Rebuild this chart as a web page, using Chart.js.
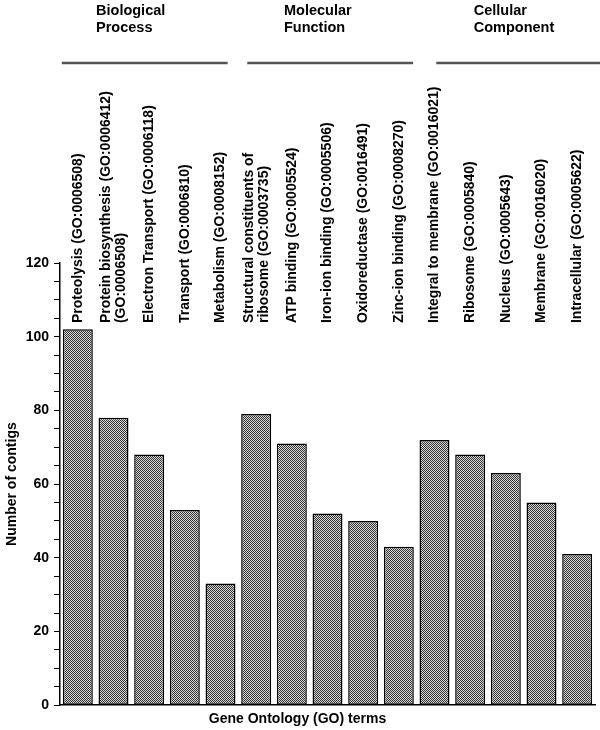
<!DOCTYPE html>
<html>
<head>
<meta charset="utf-8">
<script src="https://cdn.jsdelivr.net/npm/chart.js@4.4.1/dist/chart.umd.min.js"></script>
<style>
html,body{margin:0;padding:0;background:#fff;}
#wrap{width:600px;height:730px;}
</style>
</head>
<body>
<div id="wrap"><canvas id="c" width="600" height="730"></canvas></div>
<script>
// ---- data ----
const categories = [
  ['Proteolysis (GO:0006508)'],
  ['Protein biosynthesis (GO:0006412)', '(GO:0006508)'],
  ['Electron Transport (GO:0006118)'],
  ['Transport (GO:0006810)'],
  ['Metabolism (GO:0008152)'],
  ['Structural constituents of', 'ribosome (GO:0003735)'],
  ['ATP binding (GO:0005524)'],
  ['Iron-ion binding (GO:0005506)'],
  ['Oxidoreductase (GO:0016491)'],
  ['Zinc-ion binding (GO:0008270)'],
  ['Integral to membrane (GO:0016021)'],
  ['Ribosome (GO:0005840)'],
  ['Nucleus (GO:0005643)'],
  ['Membrane (GO:0016020)'],
  ['Intracellular (GO:0005622)']
];
const contigCounts = [102, 78, 68, 53, 33, 79, 71, 52, 50, 43, 72, 68, 63, 55, 41];
const groupNames = [['Biological', 'Process'], ['Molecular', 'Function'], ['Cellular', 'Component']];
const groupFirstBar = [0, 5, 10];
const groupLastBar = [4, 9, 14];
const yTickLabels = [0, 20, 40, 60, 80, 100, 120];

// ---- styling / layout (not data) ----
const FONT = '"Liberation Sans", Arial, Helvetica, sans-serif';
Chart.defaults.font.family = FONT;
Chart.defaults.color = '#000';

function makePattern() {
  const c = document.createElement('canvas');
  c.width = 2; c.height = 2;
  const g = c.getContext('2d');
  g.fillStyle = '#d8d8d8'; g.fillRect(0, 0, 2, 2);
  g.fillStyle = '#333333'; g.fillRect(0, 0, 1, 1); g.fillRect(1, 1, 1, 1);
  return g.createPattern(c, 'repeat');
}

// header offsets in category units relative to first/last bar of a group
const headerTextOffset = [0.51, 0.78, 1.1];
const headerLineStart = [-0.45, -0.25, 0.05];
const headerLineEnd = [0.2, 0.4, 0.65];

const annotations = {
  id: 'annotations',
  afterDatasetsDraw(chart) {
    const {ctx, scales: {x, y}} = chart;
    ctx.save();
    ctx.fillStyle = '#000';
    // rotated category labels
    ctx.font = 'bold 14px ' + FONT;
    ctx.textAlign = 'left';
    ctx.textBaseline = 'middle';
    const baseY = y.getPixelForValue(103.7);
    const lh = 15;
    categories.forEach((lines, i) => {
      const cx = x.getPixelForValue(i);
      const n = lines.length;
      lines.forEach((t, j) => {
        const px = cx + (j - (n - 1) / 2) * lh;
        ctx.save();
        ctx.translate(px, baseY);
        ctx.rotate(-Math.PI / 2);
        ctx.fillText(t, 0, 0);
        ctx.restore();
      });
    });
    // group headers
    ctx.font = 'bold 14.5px ' + FONT;
    ctx.textBaseline = 'alphabetic';
    groupNames.forEach((lines, g) => {
      const tx = x.getPixelForValue(groupFirstBar[g] + headerTextOffset[g]);
      lines.forEach((t, j) => ctx.fillText(t, tx, 15 + j * 17));
      const x1 = x.getPixelForValue(groupFirstBar[g] + headerLineStart[g]);
      const x2 = x.getPixelForValue(groupLastBar[g] + headerLineEnd[g]);
      ctx.strokeStyle = '#555';
      ctx.lineWidth = 2.5;
      ctx.beginPath();
      ctx.moveTo(x1, 63);
      ctx.lineTo(x2, 63);
      ctx.stroke();
    });
    ctx.restore();
  }
};

new Chart(document.getElementById('c'), {
  type: 'bar',
  data: {
    labels: categories.map(l => l.join(' ')),
    datasets: [{
      data: contigCounts,
      backgroundColor: makePattern(),
      borderColor: '#000',
      borderWidth: 1.5,
      borderSkipped: false,
      barPercentage: 0.84,
      categoryPercentage: 1
    }]
  },
  options: {
    responsive: false,
    animation: false,
    layout: {padding: {top: 263, right: 5, left: 0, bottom: 0}},
    plugins: {
      legend: {display: false},
      tooltip: {enabled: false},
      title: {
        display: true,
        position: 'bottom',
        text: 'Gene Ontology (GO) terms',
        color: '#000',
        font: {size: 14, weight: 'bold', family: FONT},
        padding: {top: 6, bottom: 2}
      }
    },
    scales: {
      x: {
        type: 'category',
        grid: {display: false, drawTicks: false},
        ticks: {display: false},
        border: {display: true, color: '#000', width: 1.5}
      },
      y: {
        min: 0,
        max: 120,
        ticks: {
          stepSize: 5,
          autoSkip: false,
          padding: 5,
          color: '#000',
          font: {size: 14, weight: 'bold', family: FONT},
          callback: v => (yTickLabels.includes(v) ? String(v) : '')
        },
        grid: {display: true, drawOnChartArea: false, drawTicks: true, tickLength: 6, color: '#000', lineWidth: 1},
        border: {display: true, color: '#000', width: 1.5},
        title: {
          display: true,
          text: 'Number of contigs',
          color: '#000',
          font: {size: 14, weight: 'bold', family: FONT},
          padding: {top: 4, bottom: 0}
        },
        afterFit(scale) { scale.width = 60; }
      }
    }
  },
  plugins: [annotations]
});
</script>
</body>
</html>
